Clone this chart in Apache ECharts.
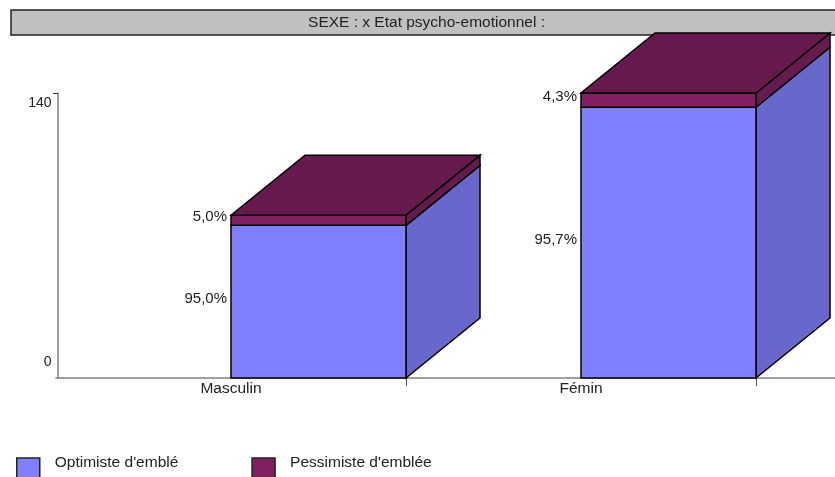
<!DOCTYPE html>
<html>
<head>
<meta charset="utf-8">
<style>
html, body { margin: 0; padding: 0; background: #fff; overflow: hidden; }
#chart { width: 835px; height: 477px; }
</style>
<script src="https://cdn.jsdelivr.net/npm/echarts@6/dist/echarts.min.js"></script>
</head>
<body>
<div id="chart"></div>
<script>
var categories = ['Masculin', 'Fémin', ''];
var optimiste = [75, 133];
var pessimiste = [5, 7];
var optimisteLabels = ['95,0%', '95,7%'];
var pessimisteLabels = ['5,0%', '4,3%'];
var yTicks = [0, 140];
var titleText = 'SEXE : x Etat psycho-emotionnel :';
var seriesNames = ["Optimiste d'emblé", "Pessimiste d'emblée"];

var FONT = '"Liberation Sans", Arial, sans-serif';
var DEPTH_X = 74;
var DEPTH_Y = 60;

function poly(points, fill) {
    return {
        type: 'polygon',
        shape: { points: points },
        style: { fill: fill, stroke: '#000', lineWidth: 1.5 }
    };
}

// one box segment: front, side, and the top face when it is the last one of the stack
function boxRenderer(bases, labels, front, side, topFace) {
    return function (params, api) {
        var i = api.value(0);
        var val = api.value(1);
        var base = bases ? bases[i] : 0;
        var p0 = api.coord([i, base]);
        var p1 = api.coord([i, base + val]);
        var w = api.size([1, 0])[0] / 2;
        var x0 = p0[0], x1 = p0[0] + w;
        var children = [
            poly([[x1, p0[1]], [x1 + DEPTH_X, p0[1] - DEPTH_Y], [x1 + DEPTH_X, p1[1] - DEPTH_Y], [x1, p1[1]]], side),
            poly([[x0, p0[1]], [x1, p0[1]], [x1, p1[1]], [x0, p1[1]]], front)
        ];
        if (topFace) {
            children.push(poly([[x0, p1[1]], [x1, p1[1]], [x1 + DEPTH_X, p1[1] - DEPTH_Y], [x0 + DEPTH_X, p1[1] - DEPTH_Y]], topFace));
        }
        children.push({
            type: 'text',
            style: {
                text: labels[i],
                x: x0 - 4,
                y: (p0[1] + p1[1]) / 2 - 3,
                align: 'right',
                verticalAlign: 'middle',
                fill: '#222',
                font: '15px ' + FONT
            }
        });
        return { type: 'group', children: children };
    };
}

var chart = echarts.init(document.getElementById('chart'), null, { renderer: 'canvas' });

chart.setOption({
    backgroundColor: '#fff',
    animation: false,
    textStyle: { fontFamily: FONT },
    graphic: [{
        type: 'rect',
        z: 0,
        shape: { x: 11, y: 10, width: 831, height: 25 },
        style: { fill: '#c0c0c0', stroke: '#222', lineWidth: 1.5 }
    }, {
        type: 'text',
        z: 1,
        x: 426.5,
        y: 22.4,
        style: {
            text: titleText,
            align: 'center',
            verticalAlign: 'middle',
            fill: '#222',
            font: '15.5px ' + FONT
        }
    }],
    grid: { left: 56, top: 93, width: 1050, height: 285, outerBoundsMode: 'none' },
    xAxis: {
        type: 'category',
        data: categories,
        axisLine: { lineStyle: { color: '#808080', width: 1.5 } },
        axisTick: {
            show: true,
            length: 8,
            lineStyle: { color: '#555', width: 1 },
            interval: function (i) { return i > 0; }
        },
        axisLabel: { color: '#222', fontSize: 15.5, margin: 3, fontFamily: FONT, interval: 0 },
        splitLine: { show: false }
    },
    yAxis: {
        type: 'value',
        min: yTicks[0],
        max: yTicks[1],
        interval: yTicks[1],
        offset: -2,
        axisLine: { show: true, lineStyle: { color: '#808080', width: 1.5 } },
        axisTick: { show: true, length: 5, customValues: [yTicks[1]], lineStyle: { color: '#333', width: 1 } },
        axisLabel: {
            color: '#222',
            fontSize: 14,
            margin: 6.5,
            fontFamily: FONT,
            padding: [3, 0, 9, 0],
            verticalAlignMinLabel: 'bottom',
            verticalAlignMaxLabel: 'top'
        },
        splitLine: { show: false }
    },
    legend: {
        left: 16,
        top: 455,
        padding: 0,
        itemWidth: 23,
        itemHeight: 20,
        itemGap: 73,
        icon: 'rect',
        data: seriesNames,
        itemStyle: { borderColor: '#222', borderWidth: 1.5 },
        formatter: '{a|{name}}',
        textStyle: {
            color: '#222',
            fontSize: 15.5,
            fontFamily: FONT,
            rich: {
                a: {
                    color: '#222',
                    fontSize: 15.5,
                    fontFamily: FONT,
                    lineHeight: 26,
                    verticalAlign: 'top',
                    padding: [0, 0, 0, 10]
                }
            }
        }
    },
    series: [{
        name: seriesNames[0],
        type: 'custom',
        z: 3,
        clip: false,
        itemStyle: { color: '#8080ff' },
        renderItem: boxRenderer(null, optimisteLabels, '#8080ff', '#6868cc'),
        encode: { x: 0, y: 1 },
        data: optimiste.map(function (v, i) { return [i, v]; })
    }, {
        name: seriesNames[1],
        type: 'custom',
        z: 4,
        clip: false,
        itemStyle: { color: '#802060' },
        renderItem: boxRenderer(optimiste, pessimisteLabels, '#802060', '#661a4d', '#661a4d'),
        encode: { x: 0, y: 1 },
        data: pessimiste.map(function (v, i) { return [i, v]; })
    }]
});
</script>
</body>
</html>
